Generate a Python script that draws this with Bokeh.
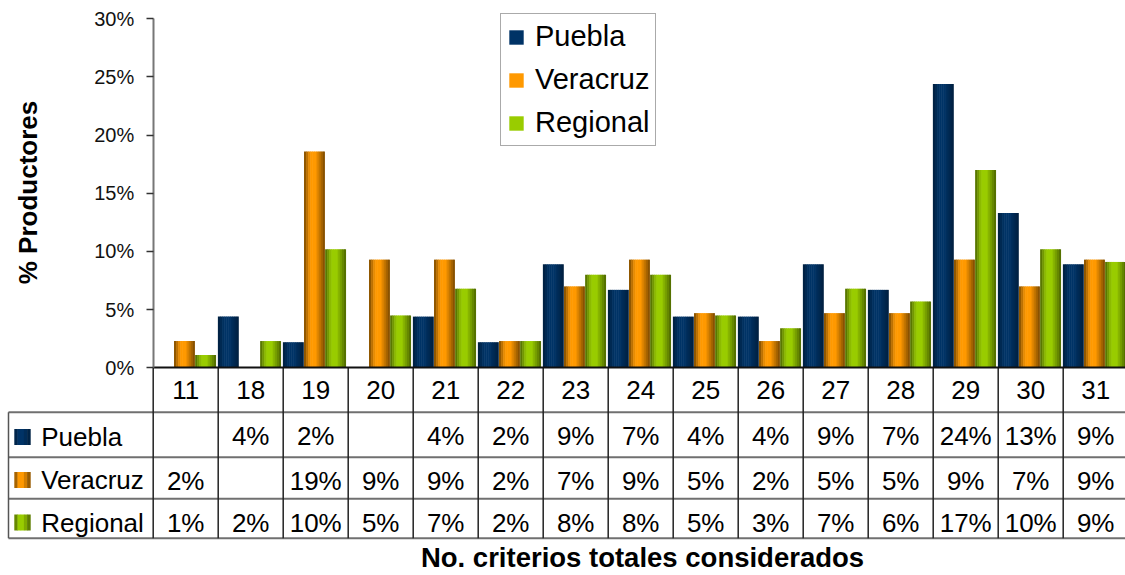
import math
from bokeh.plotting import figure
from bokeh.models import (Range1d, LinearAxis, FixedTicker, PrintfTickFormatter,
                          Legend, LegendItem)
from bokeh.core.properties import value
from bokeh.embed import file_html
from bokeh.resources import INLINE

# ---------------- data ----------------
categories = ["11", "18", "19", "20", "21", "22", "23", "24", "25", "26", "27", "28", "29", "30", "31"]
series_names = ["Puebla", "Veracruz", "Regional"]
puebla   = [None, 4.4, 2.2, None, 4.4, 2.2, 8.9, 6.7, 4.4, 4.4, 8.9, 6.7, 24.4, 13.3, 8.9]
veracruz = [2.3, None, 18.6, 9.3, 9.3, 2.3, 7.0, 9.3, 4.7, 2.3, 4.7, 4.7, 9.3, 7.0, 9.3]
regional = [1.1, 2.3, 10.2, 4.5, 6.8, 2.3, 8.0, 8.0, 4.5, 3.4, 6.8, 5.7, 17.0, 10.2, 9.1]
series_values = [puebla, veracruz, regional]
y_ticks = [0, 5, 10, 15, 20, 25, 30]
y_title = "% Productores"
x_title = "No. criterios totales considerados"

# ---------------- style / layout ----------------
base_colors = [(0x00, 0x33, 0x66), (0xFF, 0x99, 0x00), (0x99, 0xCC, 0x00)]
min_factor = [0.6, 0.48, 0.5]
FONT_NAME = "Liberation Sans"
FONT = value(FONT_NAME)

W, H = 1125, 575
PAGE_M = 0
Y0_PX, Y30_PX = 367.3, 18.3
X0_PX, COL_PX = 152.7, 65.0
PX_PER_UNIT = (Y0_PX - Y30_PX) / 30.0

top_page, bottom_page = PAGE_M, PAGE_M + H
left_page, right_page = PAGE_M, PAGE_M + W
y_start = -(bottom_page - Y0_PX) / PX_PER_UNIT
y_end = (Y0_PX - top_page) / PX_PER_UNIT
x_start = -(X0_PX - left_page) / COL_PX
x_end = (right_page - X0_PX) / COL_PX

p = figure(width=W, height=H, x_range=Range1d(x_start, x_end), y_range=Range1d(y_start, y_end),
           output_backend="svg", toolbar_location=None, x_axis_location=None, y_axis_location=None,
           min_border=0, outline_line_color=None, background_fill_color="white")
p.xgrid.visible = False
p.ygrid.visible = False
p.extra_x_ranges = {"px": Range1d(left_page, right_page)}
p.extra_y_ranges = {"py": Range1d(bottom_page, top_page)}


def shade(rgb, f):
    return "#%02x%02x%02x" % tuple(int(round(c * f)) for c in rgb)


def profile(t, mn):
    if t < 0.3:
        g = t / 0.3
    elif t < 0.55:
        g = 1.0
    else:
        g = 1.0 - (t - 0.55) / 0.45
    return mn + (1 - mn) * g


# ---------------- bars (gradient stripes) ----------------
N = 10
BW, STEP, START = 0.322, 0.325, -0.005
mid_renderers = []
for j, vals in enumerate(series_values):
    idx = [i for i, v in enumerate(vals) if v is not None]
    tops = [vals[i] for i in idx]
    s = BW / N
    mid = None
    for k in range(N):
        t = (k + 0.5) / N
        col = shade(base_colors[j], profile(t, min_factor[j]))
        ov = 0.25 * s if k < N - 1 else 0.0
        xs = [i + START + j * STEP + k * s + (s + ov) / 2 for i in idx]
        r = p.vbar(x=xs, top=tops, bottom=0, width=s + ov, fill_color=col, line_color=None)
        if k == 4:
            mid = r
    mid_renderers.append(mid)

# ---------------- axes ----------------
yaxis = LinearAxis(fixed_location=0, bounds=(0, 30), ticker=FixedTicker(ticks=y_ticks),
                   formatter=PrintfTickFormatter(format="%d%%"),
                   major_tick_in=0, major_tick_out=7, minor_tick_in=0, minor_tick_out=0,
                   axis_line_color="#777777", axis_line_width=2,
                   major_tick_line_color="#333333", major_tick_line_width=1.5,
                   major_label_text_font=FONT_NAME, major_label_text_font_size="20px",
                   major_label_text_color="#111111", major_label_standoff=12)
p.add_layout(yaxis, "left")

xaxis = LinearAxis(fixed_location=0, bounds=(0, len(categories)), ticker=FixedTicker(ticks=[]),
                   major_tick_in=0, major_tick_out=0, minor_tick_in=0, minor_tick_out=0,
                   axis_line_color="#111111", axis_line_width=2,
                   major_label_text_font_size="0px")
p.add_layout(xaxis, "below")

# ---------------- data table ----------------
ROW_LINES = [411.7, 456.7, 498.3, 537.7]
HEADER_Y = 389.5
ROW_Y = [435.5, 480.0, 522.0]
LABEL_Y = [436.5, 479.5, 522.0]
TFS = "26px"

p.segment(x0=[left_page + 8.0] * 4, x1=[right_page] * 4, y0=ROW_LINES, y1=ROW_LINES,
          x_range_name="px", y_range_name="py", line_color="#707070", line_width=2)
bounds = list(range(len(categories) + 1))
p.segment(x0=bounds, x1=bounds, y0=[Y0_PX] * len(bounds), y1=[ROW_LINES[-1]] * len(bounds),
          y_range_name="py", line_color="#222222", line_width=1.5)
p.segment(x0=[left_page + 8.0], x1=[left_page + 8.0], y0=[ROW_LINES[0]], y1=[ROW_LINES[-1]],
          x_range_name="px", y_range_name="py", line_color="#555555", line_width=1.5)

p.text(x=[i + 0.5 for i in range(len(categories))], y=[HEADER_Y] * len(categories), text=categories,
       y_range_name="py", text_font=FONT, text_font_size=TFS, text_align="center",
       text_baseline="middle", text_color="#000000")

for j, vals in enumerate(series_values):
    idx = [i for i, v in enumerate(vals) if v is not None]
    labels = ["%d%%" % int(vals[i] + 0.5) for i in idx]
    p.text(x=[i + 0.5 for i in idx], y=[ROW_Y[j]] * len(idx), text=labels,
           y_range_name="py", text_font=FONT, text_font_size=TFS, text_align="center",
           text_baseline="middle", text_color="#000000")

p.text(x=[40.7] * 3, y=LABEL_Y, text=series_names, x_range_name="px", y_range_name="py",
       text_font=FONT, text_font_size=TFS, text_align="left", text_baseline="middle",
       text_color="#000000")
NS = 5
for j in range(3):
    for k in range(NS):
        t = (k + 0.5) / NS
        col = shade(base_colors[j], profile(t, min_factor[j]))
        p.rect(x=[14 + 16 * (k + 0.5) / NS], y=[LABEL_Y[j]], width=16 / NS + 0.4, height=16,
               x_range_name="px", y_range_name="py", fill_color=col, line_color=None)

p.text(x=[642], y=[557], text=[x_title], x_range_name="px", y_range_name="py",
       text_font=FONT, text_font_style="bold", text_font_size="27.5px", text_align="center",
       text_baseline="middle", text_color="#000000")
p.text(x=[27], y=[192], text=[y_title], x_range_name="px", y_range_name="py", angle=math.pi / 2,
       text_font=FONT, text_font_style="bold", text_font_size="26px", text_align="center",
       text_baseline="middle", text_color="#000000")

legend = Legend(items=[LegendItem(label=n, renderers=[r]) for n, r in zip(series_names, mid_renderers)],
                location=(500 - PAGE_M, bottom_page - 146), orientation="vertical",
                label_text_font=FONT_NAME, label_text_font_size="29px", label_text_color="#000000",
                glyph_width=18, glyph_height=18, label_standoff=10, spacing=10, padding=6, margin=0,
                border_line_color="#555555", border_line_width=1.5,
                background_fill_color="white", background_fill_alpha=1.0)
p.add_layout(legend, "center")

open("out.html", "w").write(file_html(p, INLINE))
